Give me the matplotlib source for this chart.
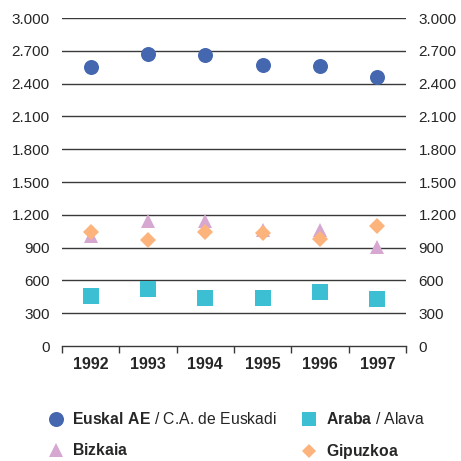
import numpy as np
import matplotlib
matplotlib.use('Agg')
import matplotlib.pyplot as plt
from matplotlib.lines import Line2D

plt.rcParams['font.family'] = ['Liberation Sans', 'DejaVu Sans']
plt.rcParams['mathtext.fontset'] = 'custom'
plt.rcParams['mathtext.rm'] = 'Liberation Sans'
plt.rcParams['mathtext.bf'] = 'Liberation Sans:bold'

# data
years = ['1992', '1993', '1994', '1995', '1996', '1997']
euskal = [2555, 2671, 2662, 2571, 2565, 2461]
araba = [460, 519, 436, 442, 491, 427]
bizkaia = [1005, 1147, 1145, 1062, 1060, 906]
gipuzkoa = [1046, 970, 1040, 1031, 976, 1098]
y_ticks = [0, 300, 600, 900, 1200, 1500, 1800, 2100, 2400, 2700, 3000]
y_labels = ['0', '300', '600', '900', '1.200', '1.500', '1.800', '2.100', '2.400', '2.700', '3.000']

c_eus = '#4467B0'
c_ara = '#3DBFD3'
c_biz = '#D5A7D1'
c_gip = '#FDB47C'
grid_c = '#3a3a3a'
txt_c = '#262626'

dpi = 100
fig = plt.figure(figsize=(461/dpi, 461/dpi), dpi=dpi)
ax = fig.add_axes([62/461, 1-346/461, 344/461, 328/461])

x = np.arange(len(years)) + 0.5
ax.plot(x, euskal, 'o', color=c_eus, markersize=10.8, markeredgewidth=0, zorder=3)
ax.plot(x, araba, 's', color=c_ara, markersize=11.5, markeredgewidth=0, zorder=3)
ax.plot(x, bizkaia, '^', color=c_biz, markersize=10.5, markeredgewidth=0, zorder=3)
ax.plot(x, gipuzkoa, 'D', color=c_gip, markersize=8, markeredgewidth=0, zorder=3)

ax.set_xlim(0, len(years))
ax.set_ylim(0, 3000)

# horizontal gridlines
for v in y_ticks[1:]:
    ax.axhline(v, color=grid_c, linewidth=1.0, zorder=1)

ax.set_yticks(y_ticks)
ax.set_yticklabels(y_labels)
ax.tick_params(axis='y', length=0, labelleft=True, labelright=True, labelsize=11,
               labelcolor=txt_c, pad=9)

# category boundaries as major ticks, year labels on minor ticks
ax.set_xticks(np.arange(len(years)+1))
ax.set_xticklabels([])
ax.set_xticks(x, minor=True)
ax.set_xticklabels(years, minor=True, fontweight='bold')
ax.tick_params(axis='x', which='major', direction='out', length=5, width=1, color=grid_c)
ax.tick_params(axis='x', which='minor', length=0, pad=8, labelsize=11.5, labelcolor=txt_c)

for s in ['top', 'left', 'right']:
    ax.spines[s].set_visible(False)
ax.spines['bottom'].set_color(grid_c)
ax.spines['bottom'].set_linewidth(1.0)

# legend
handles = [
    Line2D([], [], marker='o', color=c_eus, linestyle='none', markersize=10.8, markeredgewidth=0),
    Line2D([], [], marker='^', color=c_biz, linestyle='none', markersize=10.5, markeredgewidth=0),
    Line2D([], [], marker='s', color=c_ara, linestyle='none', markersize=10, markeredgewidth=0),
    Line2D([], [], marker='D', color=c_gip, linestyle='none', markersize=7.5, markeredgewidth=0),
]
labels = [r'$\mathbf{Euskal\ AE}$ / C.A. de Euskadi', r'$\mathbf{Bizkaia}$',
          r'$\mathbf{Araba}$ / Alava', r'$\mathbf{Gipuzkoa}$']
leg = fig.legend(handles, labels, ncol=2, loc='upper left',
                 bbox_to_anchor=(48/461, 1-411/461), frameon=False,
                 fontsize=11.3, handlelength=1.0, handletextpad=0.55,
                 columnspacing=1.55, labelspacing=0.98, borderpad=0, borderaxespad=0)
for t in leg.get_texts():
    t.set_color(txt_c)

fig.savefig('out.png', dpi=dpi)
